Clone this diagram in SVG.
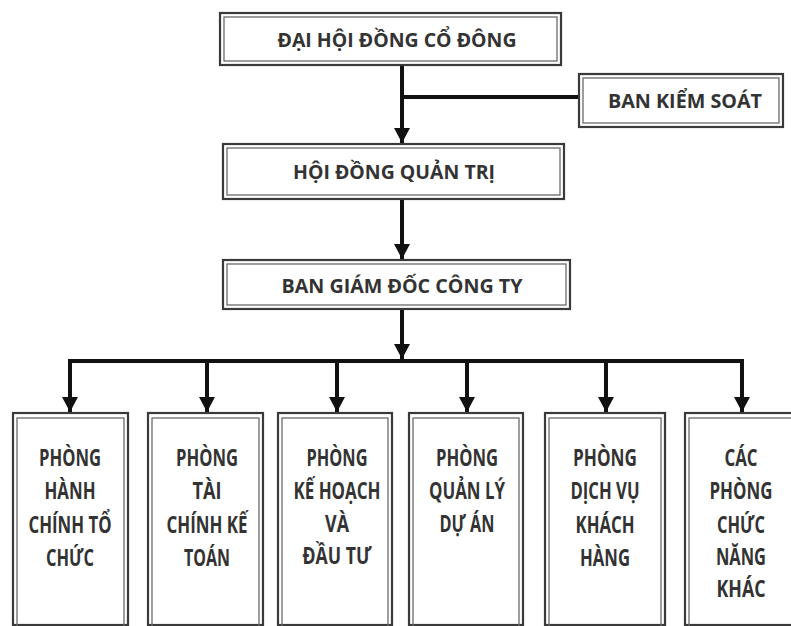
<svg xmlns="http://www.w3.org/2000/svg" width="791" height="626" viewBox="0 0 791 626">
  <defs>
    <marker id="arrow" markerUnits="userSpaceOnUse" markerWidth="16" markerHeight="16" refX="15" refY="8" orient="auto">
      <path d="M0,0 L15,8 L0,16 Z" fill="#111"/>
    </marker>
    <style>
      .outer { fill: #fff; stroke: #3a3a3a; stroke-width: 2.2; }
      .inner { fill: none; stroke: #6a6a6a; stroke-width: 1.3; }
      .link { fill: none; stroke: #111; stroke-width: 4; }
      .head { font-family: "Open Sans", "Liberation Sans", sans-serif; font-weight: 700; font-size: 20px; fill: #333; text-anchor: middle; }
      .dept { font-family: "Open Sans", "Liberation Sans", sans-serif; font-weight: 700; font-size: 24px; fill: #333; text-anchor: middle; }
    </style>
  </defs>
  <rect width="791" height="626" fill="#fff"/>

  <!-- connectors -->
  <g id="connectors">
    <path class="link" d="M402,65 V143" marker-end="url(#arrow)"/>
    <path class="link" d="M402,97 H579"/>
    <path class="link" d="M402,199 V259" marker-end="url(#arrow)"/>
    <path class="link" d="M402,309 V359" marker-end="url(#arrow)"/>
    <path class="link" d="M68,361 H744"/>
    <path class="link" d="M70,361 V412" marker-end="url(#arrow)"/>
    <path class="link" d="M207,361 V412" marker-end="url(#arrow)"/>
    <path class="link" d="M337,361 V412" marker-end="url(#arrow)"/>
    <path class="link" d="M467,361 V412" marker-end="url(#arrow)"/>
    <path class="link" d="M606,361 V412" marker-end="url(#arrow)"/>
    <path class="link" d="M742,361 V412" marker-end="url(#arrow)"/>
  </g>

  <!-- shareholders' meeting -->
  <g id="dhdcd">
    <rect class="outer" x="220" y="13" width="341" height="52"/>
    <rect class="inner" x="224" y="17" width="333" height="44"/>
    <text class="head" x="397" y="47" textLength="239" lengthAdjust="spacingAndGlyphs">ĐẠI HỘI ĐỒNG CỔ ĐÔNG</text>
  </g>

  <!-- supervisory board -->
  <g id="bks">
    <rect class="outer" x="579" y="74" width="204" height="53"/>
    <rect class="inner" x="583" y="78" width="196" height="45"/>
    <text class="head" x="685" y="108" textLength="154" lengthAdjust="spacingAndGlyphs">BAN KIỂM SOÁT</text>
  </g>

  <!-- board of directors -->
  <g id="hdqt">
    <rect class="outer" x="223" y="144" width="341" height="55"/>
    <rect class="inner" x="227" y="148" width="333" height="47"/>
    <text class="head" x="394" y="179" textLength="202" lengthAdjust="spacingAndGlyphs">HỘI ĐỒNG QUẢN TRỊ</text>
  </g>

  <!-- management board -->
  <g id="bgd">
    <rect class="outer" x="223" y="260" width="347" height="49"/>
    <rect class="inner" x="227" y="264" width="339" height="41"/>
    <text class="head" x="402" y="293" textLength="241" lengthAdjust="spacingAndGlyphs">BAN GIÁM ĐỐC CÔNG TY</text>
  </g>

  <!-- departments -->
  <g id="p-hcth">
    <rect class="outer" x="13" y="413" width="115" height="212"/>
    <rect class="inner" x="17" y="418" width="107" height="210"/>
    <text class="dept" x="70" y="466" textLength="62" lengthAdjust="spacingAndGlyphs">PHÒNG</text>
    <text class="dept" x="70" y="499" textLength="51" lengthAdjust="spacingAndGlyphs">HÀNH</text>
    <text class="dept" x="70" y="533" textLength="83" lengthAdjust="spacingAndGlyphs">CHÍNH TỔ</text>
    <text class="dept" x="70" y="566" textLength="48" lengthAdjust="spacingAndGlyphs">CHỨC</text>
  </g>

  <g id="p-tckt">
    <rect class="outer" x="148" y="413" width="115" height="212"/>
    <rect class="inner" x="152" y="418" width="107" height="210"/>
    <text class="dept" x="207" y="466" textLength="62" lengthAdjust="spacingAndGlyphs">PHÒNG</text>
    <text class="dept" x="207" y="499" textLength="29" lengthAdjust="spacingAndGlyphs">TÀI</text>
    <text class="dept" x="207" y="533" textLength="81" lengthAdjust="spacingAndGlyphs">CHÍNH KẾ</text>
    <text class="dept" x="207" y="566" textLength="46" lengthAdjust="spacingAndGlyphs">TOÁN</text>
  </g>

  <g id="p-khdt">
    <rect class="outer" x="278" y="413" width="114" height="212"/>
    <rect class="inner" x="282" y="418" width="106" height="210"/>
    <text class="dept" x="337" y="466" textLength="61" lengthAdjust="spacingAndGlyphs">PHÒNG</text>
    <text class="dept" x="337" y="499" textLength="87" lengthAdjust="spacingAndGlyphs">KẾ HOẠCH</text>
    <text class="dept" x="337" y="532" textLength="24" lengthAdjust="spacingAndGlyphs">VÀ</text>
    <text class="dept" x="337" y="564" textLength="69" lengthAdjust="spacingAndGlyphs">ĐẦU TƯ</text>
  </g>

  <g id="p-qlda">
    <rect class="outer" x="409" y="413" width="114" height="212"/>
    <rect class="inner" x="413" y="418" width="106" height="210"/>
    <text class="dept" x="467" y="466" textLength="62" lengthAdjust="spacingAndGlyphs">PHÒNG</text>
    <text class="dept" x="467" y="499" textLength="76" lengthAdjust="spacingAndGlyphs">QUẢN LÝ</text>
    <text class="dept" x="467" y="532" textLength="55" lengthAdjust="spacingAndGlyphs">DỰ ÁN</text>
  </g>

  <g id="p-dvkh">
    <rect class="outer" x="545" y="413" width="120" height="212"/>
    <rect class="inner" x="549" y="418" width="112" height="210"/>
    <text class="dept" x="605" y="466" textLength="64" lengthAdjust="spacingAndGlyphs">PHÒNG</text>
    <text class="dept" x="605" y="499" textLength="69" lengthAdjust="spacingAndGlyphs">DỊCH VỤ</text>
    <text class="dept" x="605" y="533" textLength="59" lengthAdjust="spacingAndGlyphs">KHÁCH</text>
    <text class="dept" x="605" y="566" textLength="50" lengthAdjust="spacingAndGlyphs">HÀNG</text>
  </g>

  <g id="p-khac">
    <rect class="outer" x="685" y="413" width="118" height="212"/>
    <rect class="inner" x="689" y="418" width="110" height="210"/>
    <text class="dept" x="741" y="466" textLength="33" lengthAdjust="spacingAndGlyphs">CÁC</text>
    <text class="dept" x="741" y="499" textLength="63" lengthAdjust="spacingAndGlyphs">PHÒNG</text>
    <text class="dept" x="741" y="533" textLength="48" lengthAdjust="spacingAndGlyphs">CHỨC</text>
    <text class="dept" x="741" y="565" textLength="50" lengthAdjust="spacingAndGlyphs">NĂNG</text>
    <text class="dept" x="741" y="597" textLength="49" lengthAdjust="spacingAndGlyphs">KHÁC</text>
  </g>
</svg>
